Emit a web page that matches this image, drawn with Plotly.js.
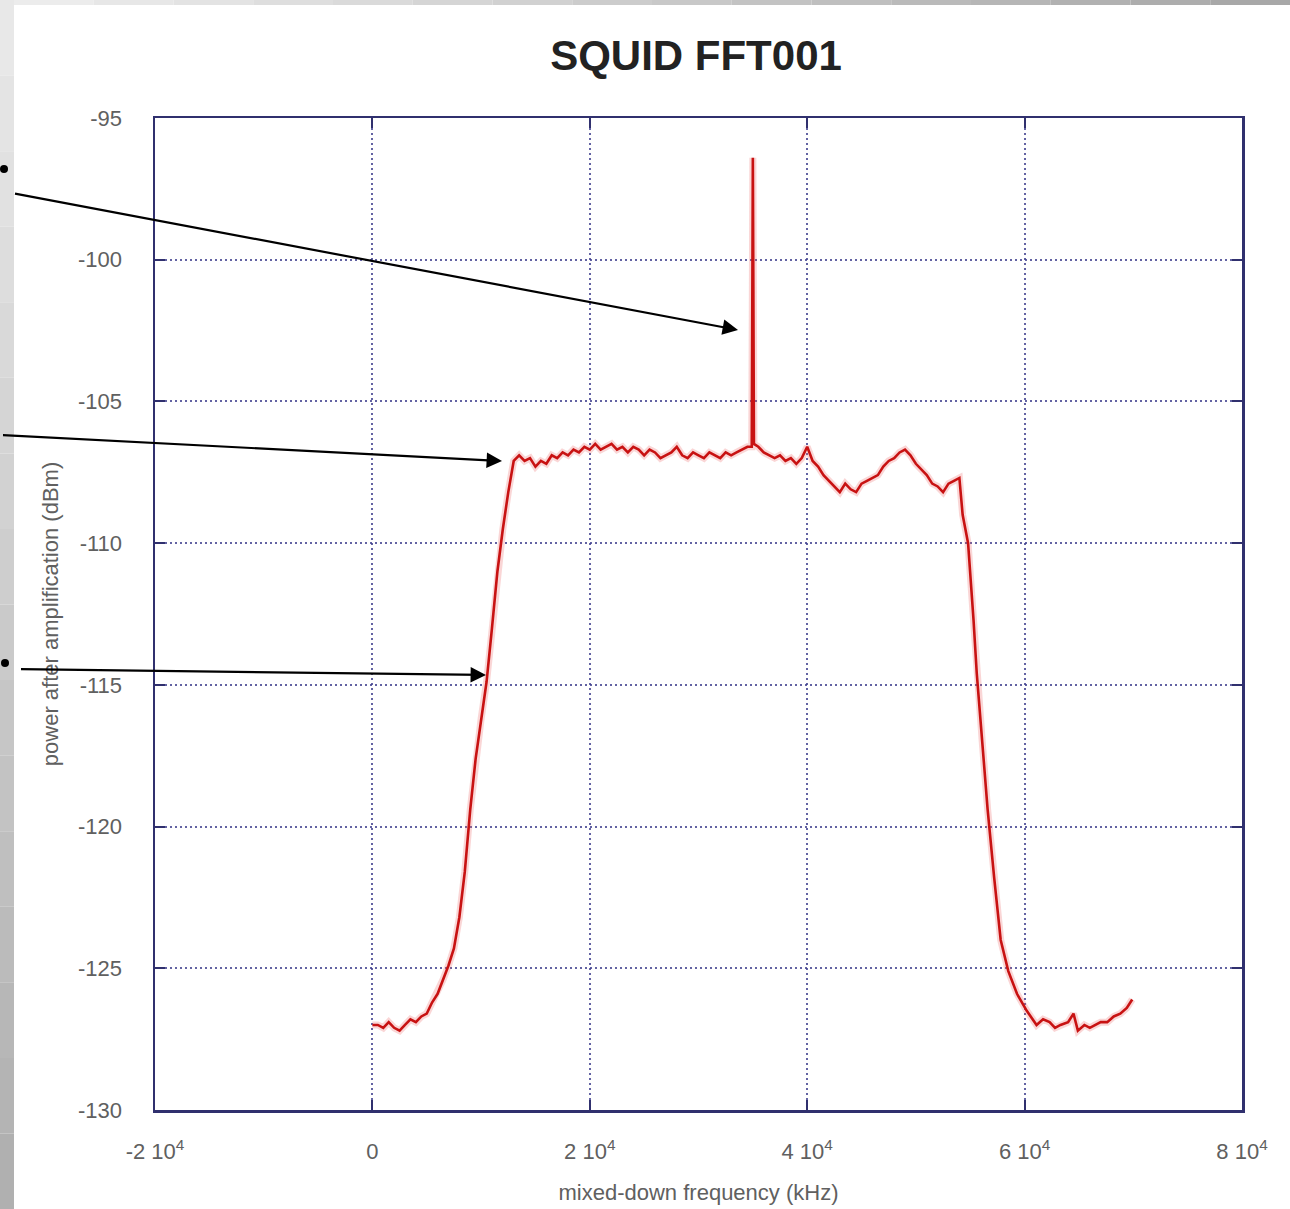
<!DOCTYPE html>
<html>
<head>
<meta charset="utf-8">
<script src="https://cdn.plot.ly/plotly-3.0.1.min.js"></script>
<style>html,body{margin:0;padding:0;background:#fff;}#chart{width:1290px;height:1209px;}</style>
</head>
<body>
<div id="chart"></div>
<script>
// Frequency (Hz) of each FFT sample
const freq = [
  0, 500, 1000, 1500, 2000, 2500, 3000, 3500, 4000, 4500,
  5000, 5500, 6000, 6500, 7000, 7500, 8000, 8500, 9000, 9500,
  10000, 10500, 11000, 11500, 12000, 12500, 13000, 13500, 14000, 14500,
  15000, 15500, 16000, 16500, 17000, 17500, 18000, 18500, 19000, 19500,
  20000, 20500, 21000, 21500, 22000, 22500, 23000, 23500, 24000, 24500,
  25000, 25500, 26000, 26500, 27000, 27500, 28000, 28500, 29000, 29500,
  30000, 30500, 31000, 31500, 32000, 32500, 33000, 33500, 34000, 34500,
  34900, 35000, 35100, 35500,
  36000, 36500, 37000, 37500, 38000, 38500, 39000, 39500, 40000, 40500,
  41000, 41500, 42000, 42500, 43000, 43500, 44000, 44500, 45000, 45500,
  46000, 46500, 47000, 47500, 48000, 48500, 49000, 49500, 50000, 50500,
  51000, 51500, 52000, 52500, 53000, 53500, 54000, 54300, 54800, 55300,
  55600, 56100, 56600, 57200, 57800, 58500, 59300, 60200, 61100, 61700,
  62300, 62800, 63300, 64000, 64500, 64900, 65500, 66000, 66500, 67000,
  67600, 68200, 68800, 69400, 69900
];
// Power after amplification (dBm)
const power = [
  -127.0, -127.0, -127.1, -126.9, -127.1, -127.2, -127.0, -126.8, -126.9, -126.7,
  -126.6, -126.2, -125.9, -125.4, -124.9, -124.3, -123.2, -121.6, -119.4, -117.6,
  -116.2, -114.9, -113.0, -111.0, -109.5, -108.2, -107.1, -106.9, -107.1, -107.0,
  -107.3, -107.1, -107.2, -106.9, -107.0, -106.8, -106.9, -106.7, -106.8, -106.6,
  -106.7, -106.5, -106.7, -106.6, -106.5, -106.7, -106.6, -106.8, -106.6, -106.7,
  -106.9, -106.7, -106.8, -107.0, -106.9, -106.8, -106.6, -106.9, -107.0, -106.8,
  -106.9, -107.0, -106.8, -106.9, -107.0, -106.8, -106.9, -106.8, -106.7, -106.6,
  -106.6, -96.4, -106.5, -106.6,
  -106.8, -106.9, -107.0, -106.9, -107.1, -107.0, -107.2, -107.0, -106.6, -107.1,
  -107.3, -107.6, -107.8, -108.0, -108.2, -107.9, -108.1, -108.2, -107.9, -107.8,
  -107.7, -107.6, -107.3, -107.1, -107.0, -106.8, -106.7, -106.9, -107.2, -107.4,
  -107.6, -107.9, -108.0, -108.2, -107.9, -107.8, -107.7, -109.0, -110.0, -112.7,
  -114.6, -117.0, -119.4, -121.8, -124.0, -125.1, -125.9, -126.5, -127.0, -126.8,
  -126.9, -127.1, -127.0, -126.9, -126.6, -127.2, -127.0, -127.1, -127.0, -126.9,
  -126.9, -126.7, -126.6, -126.4, -126.1
];

const xTickVals = [-20000, 0, 20000, 40000, 60000, 80000];
const xTickText = ['-2 10<sup>4</sup>', '0', '2 10<sup>4</sup>', '4 10<sup>4</sup>', '6 10<sup>4</sup>', '8 10<sup>4</sup>'];
const yTickVals = [-130, -125, -120, -115, -110, -105, -100, -95];
const yTickText = ['-130', '-125', '-120', '-115', '-110', '-105', '-100', '-95'];

const chartTitle = 'SQUID FFT001';
const xTitle = 'mixed-down frequency (kHz)';
const yTitle = 'power after amplification (dBm)';

// geometry helpers (pixel -> paper), plot area 155..1242 x 118..1110
const L = 155, R = 1242, T = 118, B = 1110;
const px = v => (v - L) / (R - L);
const py = v => (B - v) / (B - T);

const shapes = [];
// left gray strip with vertical gradient
const nSeg = 16;
for (let i = 0; i < nSeg; i++) {
  const y0 = i * 1209 / nSeg, y1 = (i + 1) * 1209 / nSeg;
  const c = Math.round(232 - (232 - 176) * i / (nSeg - 1));
  shapes.push({type: 'rect', xref: 'paper', yref: 'paper', x0: px(0), x1: px(14), y0: py(y0), y1: py(y1),
    fillcolor: `rgb(${c},${c},${c})`, line: {width: 0}, layer: 'below'});
}
// top gray strip with horizontal gradient
for (let i = 0; i < nSeg; i++) {
  const x0 = 14 + i * (1290 - 14) / nSeg, x1 = 14 + (i + 1) * (1290 - 14) / nSeg;
  const c = Math.round(236 - (236 - 168) * i / (nSeg - 1));
  shapes.push({type: 'rect', xref: 'paper', yref: 'paper', x0: px(x0), x1: px(x1), y0: py(0), y1: py(5),
    fillcolor: `rgb(${c},${c},${c})`, line: {width: 0}, layer: 'below'});
}
// bullet dots at left edge
[[4, 169], [5, 663]].forEach(([cx, cy]) => {
  shapes.push({type: 'circle', xref: 'paper', yref: 'paper',
    x0: px(cx - 4), x1: px(cx + 4), y0: py(cy + 4), y1: py(cy - 4),
    fillcolor: '#000', line: {width: 0}});
});

// arrows: [tipX, tipY, tailX, tailY] in pixels
const arrows = [[738, 330, 12, 193], [502, 461, 0, 435], [486, 675, 18, 669]];
const annotations = arrows.map(([tx, ty, sx, sy]) => ({
  xref: 'paper', yref: 'paper', x: px(tx), y: py(ty), text: ' ',
  showarrow: true, ax: sx - tx, ay: sy - ty, axref: 'pixel', ayref: 'pixel',
  arrowhead: 2, arrowsize: 1.4, arrowwidth: 2.2, arrowcolor: '#000', standoff: 0
}));

const gridColor = 'rgba(60,60,140,0.8)';
const frameColor = 'rgb(48,48,110)';
const tickFont = {family: 'Liberation Sans, Arial, sans-serif', size: 22, color: '#606060'};

const layout = {
  width: 1290, height: 1209,
  margin: {l: L, r: 1290 - R, t: T, b: 1209 - B, pad: 0},
  paper_bgcolor: '#ffffff', plot_bgcolor: '#ffffff',
  showlegend: false,
  title: {text: '<b>' + chartTitle + '</b>', x: 696 / 1290, xref: 'container', xanchor: 'center',
    y: 1 - 55 / 1209, yref: 'container', yanchor: 'middle',
    font: {family: 'Liberation Sans, Arial, sans-serif', size: 42, color: '#222'}},
  xaxis: {
    range: [-20000, 80000], tickvals: xTickVals, ticktext: xTickText,
    showgrid: true, gridcolor: gridColor, gridwidth: 2, griddash: '2px,3px',
    zeroline: false, showline: true, linecolor: frameColor, linewidth: 2.5, mirror: 'ticks',
    ticks: 'inside', ticklen: 10, tickwidth: 2, tickcolor: frameColor,
    ticklabelstandoff: 20, tickfont: tickFont,
    title: {text: xTitle, standoff: 22, font: tickFont}
  },
  yaxis: {
    range: [-130, -95], tickvals: yTickVals, ticktext: yTickText,
    showgrid: true, gridcolor: gridColor, gridwidth: 2, griddash: '2px,3px',
    zeroline: false, showline: true, linecolor: frameColor, linewidth: 2.5, mirror: 'ticks',
    ticks: 'inside', ticklen: 10, tickwidth: 2, tickcolor: frameColor,
    ticklabelstandoff: 26, tickfont: tickFont,
    title: {text: yTitle, standoff: 14, font: tickFont}
  },
  shapes: shapes,
  annotations: annotations
};

const halo = {
  x: freq, y: power, type: 'scatter', mode: 'lines',
  line: {color: 'rgba(235,90,90,0.25)', width: 7}, hoverinfo: 'skip'
};
const trace = {
  x: freq, y: power, type: 'scatter', mode: 'lines',
  line: {color: '#c81212', width: 2.6, shape: 'linear'},
  hoverinfo: 'skip'
};

Plotly.newPlot('chart', [halo, trace], layout, {displayModeBar: false, staticPlot: true});
</script>
</body>
</html>
